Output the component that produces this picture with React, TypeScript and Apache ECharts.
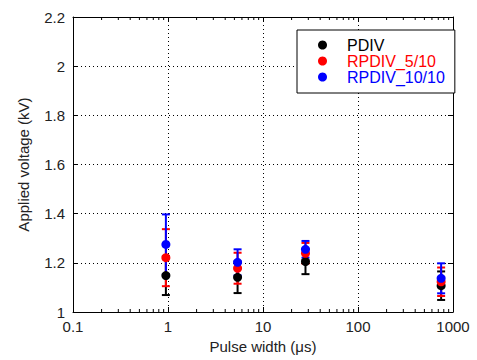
import React, { useEffect, useRef } from "react";
import * as echarts from "echarts";

const pulseWidths = [0.95, 5.4, 28, 750];
const seriesNames = ["PDIV", "RPDIV_5/10", "RPDIV_10/10"];
const seriesColors = ["#000000", "#ff0000", "#0000ff"];
const pdiv = [1.148, 1.141, 1.205, 1.107];
const pdivErr = [0.079, 0.064, 0.051, 0.058];
const rpdiv5 = [1.221, 1.178, 1.239, 1.123];
const rpdiv5Err = [0.116, 0.063, 0.042, 0.058];
const rpdiv10 = [1.275, 1.202, 1.255, 1.137];
const rpdiv10Err = [0.122, 0.053, 0.034, 0.061];
const xTickLabels = ["0.1", "1", "10", "100", "1000"];
const minorTickValues = [
  0.2, 0.3, 0.4, 0.5, 0.6, 0.7, 0.8, 0.9,
  2, 3, 4, 5, 6, 7, 8, 9,
  20, 30, 40, 50, 60, 70, 80, 90,
  200, 300, 400, 500, 600, 700, 800, 900,
];

const FONT = "'Liberation Sans', Arial, sans-serif";

export default function App() {
  const ref = useRef<HTMLDivElement>(null);
  useEffect(() => {
    if (!ref.current) return;
    const chart = echarts.init(ref.current, undefined, { renderer: "svg" });
    const values = [pdiv, rpdiv5, rpdiv10];
    const errs = [pdivErr, rpdiv5Err, rpdiv10Err];

    const errSeries = values.map((vals, si) => ({
      type: "custom",
      name: seriesNames[si] + " err",
      xAxisIndex: 0,
      yAxisIndex: 0,
      z: 2 + si,
      silent: true,
      data: vals.map((v, i) => [pulseWidths[i], v - errs[si][i], v + errs[si][i]]),
      encode: { x: 0, y: [1, 2] },
      renderItem: (params: any, api: any) => {
        const x = api.value(0);
        const lo = api.coord([x, api.value(1)]);
        const hi = api.coord([x, api.value(2)]);
        const style = { stroke: seriesColors[si], lineWidth: 2 };
        return {
          type: "group",
          children: [
            { type: "line", shape: { x1: lo[0], y1: lo[1], x2: hi[0], y2: hi[1] }, style },
            { type: "line", shape: { x1: lo[0] - 4, y1: lo[1], x2: lo[0] + 4, y2: lo[1] }, style },
            { type: "line", shape: { x1: hi[0] - 4, y1: hi[1], x2: hi[0] + 4, y2: hi[1] }, style },
          ],
        };
      },
    }));

    const scatterSeries = values.map((vals, si) => ({
      type: "scatter",
      name: seriesNames[si],
      xAxisIndex: 0,
      yAxisIndex: 0,
      z: 10 + si,
      symbol: "circle",
      symbolSize: 9,
      itemStyle: { color: seriesColors[si], opacity: 1 },
      data: vals.map((v, i) => [pulseWidths[i], v]),
    }));

    const minorTickSeries = {
      type: "custom",
      name: "minor ticks",
      xAxisIndex: 0,
      yAxisIndex: 0,
      silent: true,
      clip: false,
      z: 1,
      data: minorTickValues.map((v) => [v]),
      encode: { x: 0 },
      renderItem: (params: any, api: any) => {
        const x = api.value(0);
        const b = api.coord([x, 1]);
        const t = api.coord([x, 2.2]);
        const style = { stroke: "#000", lineWidth: 1 };
        return {
          type: "group",
          children: [
            { type: "line", shape: { x1: b[0], y1: b[1], x2: b[0], y2: b[1] - 3 }, style },
            { type: "line", shape: { x1: t[0], y1: t[1], x2: t[0], y2: t[1] + 3 }, style },
          ],
        };
      },
    };

    chart.setOption({
      animation: false,
      textStyle: { fontFamily: FONT },
      grid: { left: 73, right: 24, top: 17, bottom: 48, containLabel: false },
      legend: {
        orient: "vertical",
        left: 297,
        top: 30,
        padding: [7, 10, 8, 21],
        itemGap: 0,
        itemWidth: 9,
        itemHeight: 9,
        borderColor: "#000",
        borderWidth: 1,
        backgroundColor: "#fff",
        selectedMode: false,
        data: seriesNames.map((n, i) => ({
          name: n,
          icon: "circle",
          itemStyle: { opacity: 1 },
          textStyle: { color: seriesColors[i] },
        })),
        textStyle: {
          fontFamily: FONT,
          fontSize: 16,
          lineHeight: 16,
          padding: [0, 0, 0, 15],
        },
      },
      xAxis: [
        {
          type: "log",
          logBase: 10,
          min: 0.1,
          max: 1000,
          position: "bottom",
          name: "Pulse width (\u03bcs)",
          nameLocation: "middle",
          nameGap: 27,
          nameTextStyle: { fontFamily: FONT, fontSize: 15, color: "#222" },
          axisLine: { show: true, lineStyle: { color: "#000", width: 1 } },
          axisTick: { show: true, inside: true, length: 5, lineStyle: { color: "#000" } },
          axisLabel: {
            fontFamily: FONT,
            fontSize: 15,
            color: "#222",
            margin: 7,
            formatter: (v: number) => {
              const idx = Math.round(Math.log10(v)) + 1;
              return xTickLabels[idx] ?? String(v);
            },
          },
          splitLine: { show: true, lineStyle: { color: "#000", type: [1, 3], width: 1 } },
        },
        {
          type: "log",
          logBase: 10,
          min: 0.1,
          max: 1000,
          position: "top",
          axisLine: { show: true, lineStyle: { color: "#000", width: 1 } },
          axisTick: { show: true, inside: true, length: 5, lineStyle: { color: "#000" } },
          axisLabel: { show: false },
          splitLine: { show: false },
        },
      ],
      yAxis: [
        {
          type: "value",
          min: 1,
          max: 2.2,
          interval: 0.2,
          position: "left",
          name: "Applied voltage (kV)",
          nameLocation: "middle",
          nameGap: 42,
          nameTextStyle: { fontFamily: FONT, fontSize: 15, color: "#222" },
          axisLine: { show: true, lineStyle: { color: "#000", width: 1 } },
          axisTick: { show: true, inside: true, length: 5, lineStyle: { color: "#000" } },
          axisLabel: { fontFamily: FONT, fontSize: 15, color: "#222", margin: 8 },
          splitLine: { show: true, lineStyle: { color: "#000", type: [1, 3], width: 1 } },
        },
        {
          type: "value",
          min: 1,
          max: 2.2,
          interval: 0.2,
          position: "right",
          axisLine: { show: true, lineStyle: { color: "#000", width: 1 } },
          axisTick: { show: true, inside: true, length: 5, lineStyle: { color: "#000" } },
          axisLabel: { show: false },
          splitLine: { show: false },
        },
      ],
      series: [minorTickSeries, ...errSeries, ...scatterSeries],
    });
    return () => chart.dispose();
  }, []);
  return (
    <div
      ref={ref}
      style={{ position: "fixed", left: 0, top: 0, width: 477, height: 360, background: "#fff" }}
    />
  );
}
